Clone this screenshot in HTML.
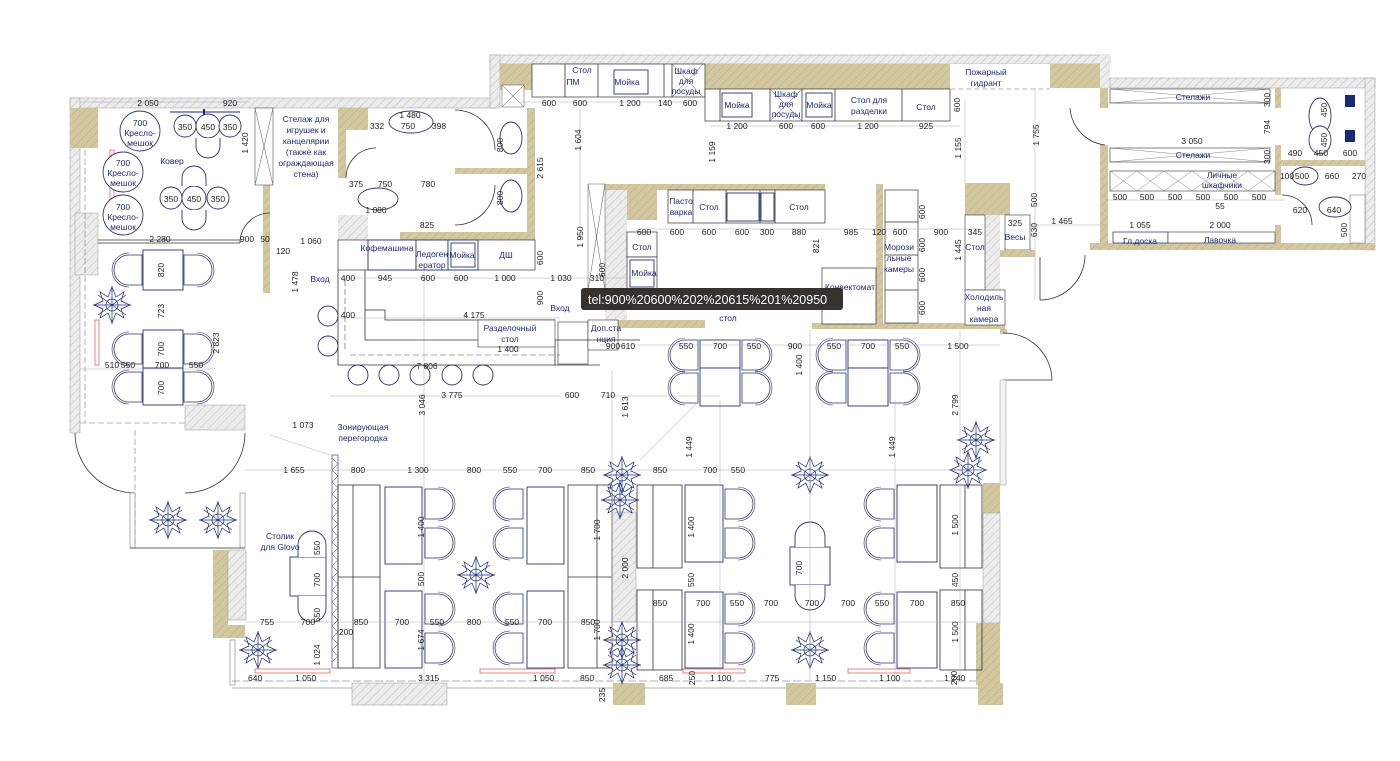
<!DOCTYPE html>
<html><head><meta charset="utf-8"><style>
html,body{margin:0;padding:0;background:#fff;}
svg{display:block;}
text{font-family:"Liberation Sans",sans-serif;}
.d{font-size:8.5px;fill:#222;}
.b{font-size:8.5px;fill:#1b2a78;}
.ln{stroke:#333;stroke-width:0.8;fill:none;}
.fn{stroke:#2b3570;stroke-width:0.9;fill:#fff;}
.dim{stroke:#aaa;stroke-width:0.5;fill:none;}
</style></head><body>
<svg width="1400" height="761" viewBox="0 0 1400 761" xmlns="http://www.w3.org/2000/svg">
<defs>
<pattern id="hg" width="6" height="6" patternUnits="userSpaceOnUse" patternTransform="rotate(45)"><rect width="6" height="6" fill="#ececec"/><line x1="0" y1="0" x2="0" y2="6" stroke="#bdbdbd" stroke-width="1"/></pattern>
<pattern id="ht" width="6" height="6" patternUnits="userSpaceOnUse" patternTransform="rotate(45)"><rect width="6" height="6" fill="#d2c79f"/><line x1="0" y1="0" x2="0" y2="6" stroke="#b9ad83" stroke-width="1"/></pattern>
<g id="cR"><path d="M0 0h13a15 15 0 0 1 0 30H0z" fill="#fff" stroke="#2b3570" stroke-width="0.8"/><path d="M13 -2a17 17 0 0 1 0 34" fill="none" stroke="#2b3570" stroke-width="0.6"/></g>
<g id="cL"><path d="M30 0h-13a15 15 0 0 0 0 30H30z" fill="#fff" stroke="#2b3570" stroke-width="0.8"/><path d="M17 -2a17 17 0 0 0 0 34" fill="none" stroke="#2b3570" stroke-width="0.6"/></g>
<g id="pl" stroke="#1b2a78" stroke-width="0.7" fill="none"><circle r="6"/><path d="M0-18L4-8L12-13L9-4L18 0L9 4L12 13L4 8L0 18L-4 8L-12 13L-9 4L-18 0L-9-4L-12-13L-4-8Z"/><path d="M-14-10L14 10M-14 10L14-10M0-19V19M-19 0H19"/></g>
</defs>

<!-- ===== WALLS ===== -->
<rect x="70" y="98" width="425" height="10" fill="url(#hg)" stroke="#999" stroke-width="0.5"/>
<rect x="490" y="55" width="620" height="9" fill="url(#hg)" stroke="#999" stroke-width="0.5"/>
<rect x="490" y="55" width="10" height="53" fill="url(#hg)" stroke="#999" stroke-width="0.5"/>
<rect x="500" y="64" width="32" height="26" fill="url(#ht)"/>
<rect x="705" y="64" width="245" height="25" fill="url(#ht)"/>
<rect x="1050" y="64" width="55" height="24" fill="url(#ht)"/>
<rect x="1100" y="55" width="10" height="33" fill="url(#hg)"/>
<rect x="1110" y="78" width="265" height="10" fill="url(#hg)" stroke="#999" stroke-width="0.5"/>
<rect x="1365" y="78" width="10" height="172" fill="url(#hg)" stroke="#999" stroke-width="0.5"/>
<rect x="1090" y="243" width="285" height="7" fill="url(#ht)"/>
<rect x="1100" y="88" width="8" height="20" fill="url(#ht)"/>
<rect x="1100" y="145" width="8" height="98" fill="url(#ht)"/>
<rect x="1275" y="88" width="6" height="20" fill="url(#ht)"/>
<rect x="1275" y="145" width="6" height="50" fill="url(#ht)"/>
<rect x="1280" y="160" width="85" height="6" fill="url(#ht)"/>
<rect x="1275" y="225" width="6" height="18" fill="url(#ht)"/>
<rect x="1350" y="195" width="15" height="48" fill="#fff" stroke="#666" stroke-width="0.5"/>

<rect x="70" y="98" width="10" height="335" fill="url(#hg)" stroke="#999" stroke-width="0.5"/>
<rect x="70" y="108" width="28" height="40" fill="url(#ht)"/>
<rect x="75" y="213" width="23" height="62" fill="url(#hg)" stroke="#999" stroke-width="0.5"/>
<line x1="85" y1="150" x2="85" y2="423" stroke="#777" stroke-width="0.6" stroke-dasharray="6 3"/>
<line x1="80" y1="423" x2="185" y2="423" stroke="#777" stroke-width="0.6" stroke-dasharray="6 3"/>
<rect x="110" y="150" width="4" height="55" fill="none" stroke="#e05050" stroke-width="0.7"/>
<rect x="95" y="320" width="4" height="45" fill="none" stroke="#e05050" stroke-width="0.7"/>
<line x1="98" y1="240" x2="240" y2="240" class="ln"/><line x1="98" y1="243" x2="240" y2="243" class="ln"/>
<rect x="185" y="405" width="60" height="25" fill="url(#hg)" stroke="#999" stroke-width="0.5"/>
<rect x="263" y="108" width="7" height="185" fill="url(#ht)"/>
<rect x="255" y="108" width="18" height="77" fill="#fff" stroke="#555" stroke-width="0.6"/>
<path d="M255 108L273 185M273 108L255 185" stroke="#555" stroke-width="0.5"/>
<path d="M240 243A30 30 0 0 1 270 213" class="ln" stroke-width="0.6"/>

<!-- toilets block -->
<rect x="338" y="108" width="8" height="70" fill="url(#ht)"/>
<rect x="346" y="108" width="22" height="22" fill="url(#ht)"/>
<rect x="338" y="215" width="30" height="25" fill="url(#hg)"/>
<rect x="400" y="232" width="135" height="8" fill="url(#ht)"/>
<rect x="527" y="108" width="8" height="132" fill="url(#ht)"/>
<rect x="455" y="168" width="72" height="6" fill="url(#ht)"/>
<rect x="338" y="240" width="197" height="30" fill="#fff" stroke="#333" stroke-width="0.7"/>
<rect x="368" y="240" width="48" height="30" class="fn"/><rect x="416" y="240" width="32" height="30" class="fn"/><rect x="448" y="240" width="30" height="30" class="fn"/>
<rect x="451" y="243" width="24" height="24" class="fn"/>
<path d="M346 178A30 30 0 0 1 376 148" class="ln" stroke-width="0.6"/>
<path d="M455 110A40 40 0 0 1 495 150M455 225A40 40 0 0 0 495 185" class="ln" stroke-width="0.6"/>
<ellipse cx="411" cy="122" rx="22" ry="11" class="fn"/><ellipse cx="378" cy="199" rx="20" ry="11" class="fn"/>
<ellipse cx="511" cy="138" rx="11" ry="16" class="fn"/><ellipse cx="511" cy="196" rx="11" ry="16" class="fn"/>
<rect x="502" y="85" width="22" height="22" fill="#fff" stroke="#555" stroke-width="0.5"/><path d="M502 85L524 107M524 85L502 107" stroke="#555" stroke-width="0.5"/>

<!-- kitchen top counters -->
<rect x="532" y="64" width="173" height="33" fill="#fff" stroke="#333" stroke-width="0.7"/>
<line x1="565" y1="64" x2="565" y2="97" class="ln"/><line x1="598" y1="64" x2="598" y2="97" class="ln"/><line x1="664" y1="64" x2="664" y2="97" class="ln"/><line x1="672" y1="64" x2="672" y2="97" class="ln"/>
<rect x="614" y="70" width="34" height="24" class="fn"/>
<path d="M672 64L703 97M703 64L672 97" stroke="#555" stroke-width="0.5"/>
<rect x="705" y="89" width="245" height="32" fill="#fff" stroke="#333" stroke-width="0.7"/>
<line x1="720" y1="89" x2="720" y2="121" class="ln"/><line x1="770" y1="89" x2="770" y2="121" class="ln"/><line x1="802" y1="89" x2="802" y2="121" class="ln"/><line x1="835" y1="89" x2="835" y2="121" class="ln"/><line x1="902" y1="89" x2="902" y2="121" class="ln"/>
<rect x="722" y="93" width="30" height="24" class="fn"/><rect x="806" y="93" width="26" height="24" class="fn"/>
<path d="M770 89L802 121M802 89L770 121" stroke="#555" stroke-width="0.5"/>
<rect x="950" y="64" width="100" height="25" fill="#fff"/>
<line x1="950" y1="89" x2="1050" y2="89" stroke="#777" stroke-width="0.5" stroke-dasharray="5 3"/>

<!-- kitchen island -->
<rect x="600" y="184" width="225" height="6" fill="url(#ht)"/>
<rect x="605" y="190" width="22" height="135" fill="url(#hg)"/>
<rect x="588" y="184" width="17" height="106" fill="#fff" stroke="#555" stroke-width="0.5"/>
<path d="M588 184L605 290M605 184L588 290" stroke="#555" stroke-width="0.5"/>
<rect x="627" y="190" width="30" height="30" fill="url(#ht)"/>
<rect x="668" y="190" width="157" height="33" fill="#fff" stroke="#333" stroke-width="0.7"/>
<line x1="693" y1="190" x2="693" y2="223" class="ln"/><line x1="726" y1="190" x2="726" y2="223" class="ln"/><line x1="760" y1="190" x2="760" y2="223" class="ln"/><line x1="775" y1="190" x2="775" y2="223" class="ln"/>
<rect x="727" y="193" width="32" height="28" class="fn"/><rect x="761" y="193" width="13" height="28" class="fn"/>
<rect x="627" y="232" width="30" height="25" fill="#fff" stroke="#333" stroke-width="0.7"/>
<rect x="627" y="257" width="30" height="33" fill="#fff" stroke="#333" stroke-width="0.7"/><rect x="630" y="260" width="24" height="27" class="fn"/>
<rect x="600" y="320" width="105" height="8" fill="url(#ht)"/>
<rect x="812" y="323" width="193" height="6" fill="url(#ht)"/>
<rect x="876" y="184" width="7" height="140" fill="url(#ht)"/>
<rect x="885" y="190" width="33" height="133" fill="#fff" stroke="#333" stroke-width="0.7"/>
<line x1="885" y1="222" x2="918" y2="222" class="ln"/><line x1="885" y1="255" x2="918" y2="255" class="ln"/><line x1="885" y1="290" x2="918" y2="290" class="ln"/>
<rect x="822" y="268" width="54" height="56" fill="#fff" stroke="#333" stroke-width="0.7"/>
<rect x="965" y="183" width="45" height="32" fill="url(#ht)"/>
<rect x="985" y="215" width="15" height="75" fill="url(#hg)"/>
<rect x="965" y="215" width="20" height="75" fill="#fff" stroke="#333" stroke-width="0.6"/>
<rect x="965" y="290" width="40" height="35" fill="#fff" stroke="#333" stroke-width="0.6"/>
<rect x="1005" y="215" width="25" height="35" fill="#fff" stroke="#333" stroke-width="0.6"/>
<rect x="1000" y="250" width="35" height="7" fill="url(#ht)"/>
<rect x="1000" y="329" width="7" height="5" fill="url(#ht)"/>
<path d="M1003 333A48 48 0 0 1 1052 380H1003" class="ln" stroke-width="0.6"/>
<path d="M1040 257V300A45 45 0 0 0 1085 255" class="ln" stroke-width="0.6"/>
<path d="M1070 108A40 40 0 0 0 1105 145" class="ln" stroke-width="0.6"/>

<!-- right storage -->
<rect x="1110" y="89" width="160" height="14" fill="#fff" stroke="#333" stroke-width="0.6"/><path d="M1110 89L1270 103M1270 89L1110 103" stroke="#666" stroke-width="0.4"/>
<rect x="1110" y="148" width="160" height="14" fill="#fff" stroke="#333" stroke-width="0.6"/><path d="M1110 148L1270 162M1270 148L1110 162" stroke="#666" stroke-width="0.4"/>
<rect x="1110" y="171" width="165" height="20" fill="#fff" stroke="#333" stroke-width="0.6"/>
<path d="M1110 171L1137 191M1137 171L1110 191M1137 171L1164 191M1164 171L1137 191M1164 171L1192 191M1192 171L1164 191M1192 171L1220 191M1220 171L1192 191M1220 171L1248 191M1248 171L1220 191M1248 171L1275 191M1275 171L1248 191" stroke="#666" stroke-width="0.4"/>
<rect x="1113" y="232" width="55" height="11" fill="#fff" stroke="#1b2a78" stroke-width="0.7"/>
<rect x="1168" y="232" width="107" height="11" fill="#fff" stroke="#333" stroke-width="0.6"/>
<path d="M1282 195A30 30 0 0 1 1312 225" class="ln" stroke-width="0.6"/>
<ellipse cx="1320" cy="116" rx="11" ry="18" class="fn"/><ellipse cx="1320" cy="140" rx="11" ry="14" class="fn"/>
<rect x="1345" y="95" width="10" height="12" fill="#1b2a78"/><rect x="1345" y="130" width="10" height="12" fill="#1b2a78"/>
<ellipse cx="1305" cy="176" rx="13" ry="9" class="fn"/><ellipse cx="1335" cy="207" rx="16" ry="10" class="fn"/>

<!-- bar counter -->
<path d="M338 270V365H555V340M338 365" class="ln"/>
<path d="M365 270V340H555M365 310H385V320H555" class="ln" stroke-width="0.6"/>
<rect x="478" y="320" width="77" height="27" fill="#fff" stroke="#333" stroke-width="0.6"/>
<rect x="558" y="322" width="30" height="42" fill="#fff" stroke="#333" stroke-width="0.6"/>
<line x1="350" y1="355" x2="560" y2="355" stroke="#555" stroke-width="0.6" stroke-dasharray="6 3"/>
<line x1="345" y1="280" x2="345" y2="350" stroke="#555" stroke-width="0.6" stroke-dasharray="6 3"/>
<rect x="588" y="320" width="30" height="30" fill="#fff" stroke="#333" stroke-width="0.6"/>
<line x1="555" y1="340" x2="640" y2="340" class="ln"/><line x1="555" y1="365" x2="600" y2="365" class="ln"/>
<g class="fn"><circle cx="358" cy="375" r="10"/><circle cx="389" cy="375" r="10"/><circle cx="420" cy="375" r="10"/><circle cx="452" cy="375" r="10"/><circle cx="483" cy="375" r="10"/><circle cx="328" cy="316" r="10"/><circle cx="328" cy="346" r="10"/></g>

<!-- left room furniture -->
<g class="fn"><circle cx="140" cy="131" r="20"/><circle cx="123" cy="172" r="20"/><circle cx="123" cy="215" r="20"/>
<circle cx="208" cy="126" r="12"/><circle cx="185" cy="126" r="11"/><circle cx="230" cy="126" r="11"/>
<circle cx="194" cy="198" r="12"/><circle cx="171" cy="198" r="11"/><circle cx="218" cy="198" r="11"/>
<path d="M196 138v8a12 12 0 0 0 24 0v-8M182 186v-8a12 12 0 0 1 24 0v8M182 210v8a12 12 0 0 0 24 0v-8"/></g>
<rect x="203" y="109" width="2" height="6" fill="#1b2a78"/><line x1="170" y1="112" x2="240" y2="112" stroke="#1b2a78" stroke-width="1"/>

<!-- left upper dining -->
<rect x="143" y="250" width="40" height="40" class="fn"/>
<rect x="143" y="330" width="40" height="38" class="fn"/><rect x="143" y="368" width="40" height="37" class="fn"/>
<use href="#cL" x="112" y="255"/><use href="#cR" x="184" y="255"/>
<use href="#cL" x="112" y="334"/><use href="#cR" x="184" y="334"/>
<use href="#cL" x="112" y="372"/><use href="#cR" x="184" y="372"/>
<use href="#pl" x="112" y="305"/>

<!-- upper center dining -->
<rect x="700" y="340" width="40" height="28" class="fn"/><rect x="700" y="368" width="40" height="38" class="fn"/>
<use href="#cL" x="668" y="340"/><use href="#cR" x="742" y="340"/><use href="#cL" x="668" y="373"/><use href="#cR" x="742" y="373"/>
<rect x="848" y="340" width="40" height="28" class="fn"/><rect x="848" y="368" width="40" height="38" class="fn"/>
<use href="#cL" x="816" y="340"/><use href="#cR" x="890" y="340"/><use href="#cL" x="816" y="373"/><use href="#cR" x="890" y="373"/>
<rect x="1000" y="380" width="6" height="105" fill="#f2f2f2" stroke="#999" stroke-width="0.5"/>

<!-- lower walls -->
<path d="M75 433A60 60 0 0 0 135 493M245 433A60 60 0 0 1 185 493" class="ln" stroke-width="0.6"/>
<line x1="135" y1="430" x2="135" y2="548" stroke="#777" stroke-width="0.6" stroke-dasharray="6 3"/>
<rect x="130" y="493" width="5" height="55" fill="#fff" stroke="#666" stroke-width="0.5"/><rect x="240" y="493" width="5" height="55" fill="#fff" stroke="#666" stroke-width="0.5"/>
<line x1="130" y1="548" x2="245" y2="548" class="ln"/>
<path d="M213 550H228V625H245V638H213Z" fill="url(#ht)"/>
<rect x="228" y="550" width="18" height="70" fill="url(#hg)" stroke="#999" stroke-width="0.5"/>
<rect x="230" y="640" width="5" height="45" fill="#fff" stroke="#666" stroke-width="0.5"/>
<line x1="232" y1="681" x2="1000" y2="681" stroke="#666" stroke-width="0.6" stroke-dasharray="8 3"/>
<line x1="232" y1="688" x2="1000" y2="688" stroke="#666" stroke-width="0.6"/>
<rect x="352" y="683" width="95" height="22" fill="url(#hg)" stroke="#999" stroke-width="0.5"/>
<rect x="613" y="683" width="32" height="22" fill="url(#ht)"/>
<rect x="786" y="683" width="30" height="22" fill="url(#ht)"/>
<rect x="978" y="683" width="25" height="22" fill="url(#ht)"/>
<rect x="983" y="483" width="17" height="30" fill="url(#ht)"/>
<rect x="983" y="513" width="17" height="110" fill="url(#hg)" stroke="#999" stroke-width="0.5"/>
<rect x="976" y="623" width="24" height="62" fill="url(#ht)"/>
<rect x="612" y="512" width="24" height="110" fill="url(#hg)" stroke="#999" stroke-width="0.5"/>
<g fill="none" stroke="#e05050" stroke-width="0.7"><rect x="255" y="669" width="75" height="4"/><rect x="480" y="669" width="75" height="4"/><rect x="683" y="669" width="62" height="4"/><rect x="848" y="669" width="62" height="4"/></g>

<!-- partition -->
<rect x="332" y="455" width="6" height="213" fill="#fff" stroke="#2b3570" stroke-width="0.6"/>
<path d="M332 458l6 6l-6 6l6 6l-6 6l6 6l-6 6l6 6l-6 6l6 6l-6 6l6 6l-6 6l6 6l-6 6l6 6l-6 6l6 6l-6 6l6 6l-6 6l6 6l-6 6l6 6l-6 6l6 6l-6 6l6 6l-6 6l6 6l-6 6l6 6l-6 6l6 6l-6 6" fill="none" stroke="#2b3570" stroke-width="0.5"/>

<!-- lower dining -->
<g class="ln" stroke-width="0.7">
<rect x="338" y="485" width="42" height="183"/><line x1="338" y1="577" x2="380" y2="577"/><line x1="353" y1="485" x2="353" y2="668"/>
<rect x="568" y="485" width="44" height="183"/><line x1="568" y1="577" x2="612" y2="577"/><line x1="597" y1="485" x2="597" y2="668"/>
<rect x="637" y="485" width="45" height="83"/><line x1="653" y1="485" x2="653" y2="568"/>
<rect x="637" y="590" width="45" height="80"/><line x1="653" y1="590" x2="653" y2="670"/>
<rect x="940" y="485" width="42" height="83"/><line x1="965" y1="485" x2="965" y2="568"/>
<rect x="940" y="590" width="42" height="80"/><line x1="965" y1="590" x2="965" y2="670"/>
</g>
<rect x="385" y="487" width="37" height="77" class="fn"/><rect x="385" y="591" width="37" height="77" class="fn"/>
<rect x="527" y="487" width="37" height="77" class="fn"/><rect x="527" y="591" width="37" height="77" class="fn"/>
<rect x="685" y="485" width="38" height="77" class="fn"/><rect x="685" y="592" width="38" height="76" class="fn"/>
<rect x="897" y="485" width="40" height="77" class="fn"/><rect x="897" y="592" width="40" height="76" class="fn"/>
<rect x="790" y="547" width="40" height="38" class="fn"/>
<rect x="290" y="557" width="36" height="39" class="fn"/>
<g>
<use href="#cR" x="425" y="489"/><use href="#cR" x="425" y="528"/><use href="#cR" x="425" y="594"/><use href="#cR" x="425" y="633"/>
<use href="#cL" x="493" y="489"/><use href="#cL" x="493" y="528"/><use href="#cL" x="493" y="594"/><use href="#cL" x="493" y="633"/>
<use href="#cR" x="725" y="489"/><use href="#cR" x="725" y="528"/><use href="#cR" x="725" y="594"/><use href="#cR" x="725" y="633"/>
<use href="#cL" x="864" y="489"/><use href="#cL" x="864" y="528"/><use href="#cL" x="864" y="594"/><use href="#cL" x="864" y="633"/>
</g>
<path d="M795 547v-10a15 15 0 0 1 30 0v10M795 585v10a15 15 0 0 0 30 0v-10" class="fn"/>
<path d="M298 557v-12a14 14 0 0 1 28 0v12M298 596v12a14 14 0 0 0 28 0v-12" class="fn"/>
<use href="#pl" x="810" y="475"/><use href="#pl" x="810" y="650"/><use href="#pl" x="476" y="575"/>
<use href="#pl" x="168" y="520"/><use href="#pl" x="218" y="520"/><use href="#pl" x="258" y="650"/><use href="#pl" x="976" y="440"/><use href="#pl" x="968" y="470"/>
<use href="#pl" x="622" y="475"/><use href="#pl" x="620" y="500"/><use href="#pl" x="622" y="640"/><use href="#pl" x="622" y="665"/>

<!-- dimension lines -->
<g class="dim">
<line x1="245" y1="470" x2="985" y2="470"/><line x1="245" y1="622" x2="985" y2="622"/>
<line x1="600" y1="396" x2="720" y2="396"/><line x1="330" y1="396" x2="560" y2="396"/>
<line x1="600" y1="345" x2="1000" y2="345"/><line x1="80" y1="369" x2="215" y2="369"/>
<line x1="80" y1="102" x2="250" y2="102"/><line x1="520" y1="102" x2="700" y2="102"/>
<line x1="710" y1="126" x2="960" y2="126"/><line x1="340" y1="278" x2="640" y2="278"/>
<line x1="340" y1="318" x2="560" y2="318"/><line x1="640" y1="229" x2="980" y2="229"/>
<line x1="1105" y1="200" x2="1285" y2="200"/><line x1="1030" y1="225" x2="1105" y2="225"/>
<line x1="424" y1="270" x2="424" y2="680"/><line x1="612" y1="370" x2="612" y2="680"/>
<line x1="720" y1="400" x2="720" y2="680"/><line x1="895" y1="400" x2="895" y2="680"/>
<line x1="960" y1="330" x2="960" y2="680"/><line x1="810" y1="330" x2="810" y2="680"/>
<line x1="1035" y1="88" x2="1035" y2="300"/><line x1="580" y1="100" x2="580" y2="240"/>
<line x1="965" y1="100" x2="965" y2="183"/><line x1="640" y1="460" x2="700" y2="400"/>
<line x1="270" y1="435" x2="330" y2="455"/>
</g>

<!-- LABELS blue -->
<g class="b" text-anchor="middle">
<text x="140" y="126">700</text><text x="140" y="136">Кресло-</text><text x="140" y="146">мешок</text>
<text x="123" y="166">700</text><text x="123" y="176">Кресло-</text><text x="123" y="186">мешок</text>
<text x="123" y="210">700</text><text x="123" y="220">Кресло-</text><text x="123" y="230">мешок</text>
<text x="172" y="164">Ковер</text>
<text x="306" y="122">Стелаж для</text><text x="306" y="133">игрушек и</text><text x="306" y="144">канцелярии</text><text x="306" y="155">(также как</text><text x="306" y="166">ограждающая</text><text x="306" y="177">стена)</text>
<text x="387" y="251">Кофемашина</text><text x="432" y="257">Ледоген</text><text x="432" y="268">ератор</text><text x="462" y="258">Мойка</text><text x="506" y="258">ДШ</text>
<text x="320" y="282">Вход</text><text x="560" y="311">Вход</text>
<text x="510" y="331">Разделочный</text><text x="510" y="342">стол</text>
<text x="606" y="331">Доп.ста</text><text x="606" y="342">нция</text>
<text x="627" y="85">Мойка</text><text x="737" y="108">Мойка</text><text x="819" y="108">Мойка</text>
<text x="686" y="74">Шкаф</text><text x="686" y="84">для</text><text x="686" y="94">посуды</text>
<text x="786" y="97">Шкаф</text><text x="786" y="107">для</text><text x="786" y="117">посуды</text>
<text x="869" y="103">Стол для</text><text x="869" y="114">разделки</text><text x="926" y="110">Стол</text>
<text x="582" y="73">Стол</text><text x="573" y="85">ПМ</text>
<text x="681" y="204">Пасто</text><text x="681" y="215">варка</text><text x="709" y="210">Стол</text><text x="799" y="210">Стол</text>
<text x="642" y="250">Стол</text><text x="644" y="276">Мойка</text>
<text x="899" y="250">Морози</text><text x="899" y="261">льные</text><text x="899" y="272">камеры</text>
<text x="850" y="290">Конвектомат</text><text x="728" y="321">стол</text>
<text x="975" y="250">Стол</text><text x="1015" y="240">Весы</text>
<text x="984" y="300">Холодиль</text><text x="984" y="311">ная</text><text x="984" y="322">камера</text>
<text x="986" y="75">Пожарный</text><text x="986" y="86">гидрант</text>
<text x="1193" y="100">Стелажи</text><text x="1193" y="158">Стелажи</text>
<text x="1222" y="178">Личные</text><text x="1222" y="188">шкафчики</text>
<text x="1140" y="244">Гл.доска</text><text x="1220" y="243">Лавочка</text>
<text x="363" y="430">Зонирующая</text><text x="363" y="441">перегородка</text>
<text x="280" y="539">Столик</text><text x="280" y="550">для Glovo</text>
</g>

<!-- dims black -->
<g class="d" text-anchor="middle">
<text x="148" y="106">2 050</text><text x="230" y="106">920</text>
<text x="185" y="130">350</text><text x="208" y="130">450</text><text x="230" y="130">350</text>
<text x="171" y="202">350</text><text x="194" y="202">450</text><text x="218" y="202">350</text>
<text x="160" y="242">2 280</text><text x="247" y="242">900</text><text x="265" y="242">50</text><text x="283" y="254">120</text><text x="311" y="244">1 060</text>
<text x="377" y="129">332</text><text x="408" y="129">750</text><text x="410" y="118">1 480</text><text x="439" y="129">398</text>
<text x="356" y="187">375</text><text x="385" y="187">750</text><text x="428" y="187">780</text><text x="376" y="213">1 080</text><text x="427" y="228">825</text>
<text x="348" y="281">400</text><text x="385" y="281">945</text><text x="428" y="281">600</text><text x="461" y="281">600</text><text x="505" y="281">1 000</text><text x="561" y="281">1 030</text><text x="597" y="281">310</text>
<text x="348" y="318">400</text><text x="474" y="318">4 175</text><text x="508" y="352">1 400</text>
<text x="427" y="369">7 806</text><text x="452" y="398">3 775</text><text x="572" y="398">600</text><text x="608" y="398">710</text>
<text x="549" y="106">600</text><text x="580" y="106">600</text><text x="630" y="106">1 200</text><text x="665" y="106">140</text><text x="690" y="106">600</text>
<text x="737" y="129">1 200</text><text x="786" y="129">600</text><text x="818" y="129">600</text><text x="868" y="129">1 200</text><text x="926" y="129">925</text>
<text x="644" y="235">600</text><text x="677" y="235">600</text><text x="709" y="235">600</text><text x="742" y="235">600</text><text x="767" y="235">300</text><text x="799" y="235">880</text><text x="851" y="235">985</text><text x="879" y="235">120</text><text x="900" y="235">600</text><text x="941" y="235">900</text><text x="975" y="235">345</text><text x="1015" y="226">325</text><text x="1062" y="224">1 465</text>
<text x="628" y="349">610</text><text x="686" y="349">550</text><text x="720" y="349">700</text><text x="754" y="349">550</text><text x="795" y="349">900</text><text x="834" y="349">550</text><text x="868" y="349">700</text><text x="902" y="349">550</text><text x="958" y="349">1 500</text><text x="613" y="349">900</text>
<text x="112" y="368">510</text><text x="128" y="368">550</text><text x="162" y="368">700</text><text x="196" y="368">550</text>
<text x="1192" y="144">3 050</text><text x="1120" y="200">500</text><text x="1147" y="200">500</text><text x="1175" y="200">500</text><text x="1203" y="200">500</text><text x="1231" y="200">500</text><text x="1259" y="200">500</text><text x="1220" y="209">55</text><text x="1140" y="228">1 055</text><text x="1220" y="228">2 000</text>
<text x="1295" y="156">490</text><text x="1321" y="156">450</text><text x="1350" y="156">600</text><text x="1287" y="179">100</text><text x="1302" y="179">500</text><text x="1332" y="179">660</text><text x="1359" y="179">270</text><text x="1300" y="213">620</text><text x="1334" y="213">640</text>
<text x="294" y="473">1 655</text><text x="358" y="473">800</text><text x="418" y="473">1 300</text><text x="474" y="473">800</text><text x="510" y="473">550</text><text x="545" y="473">700</text><text x="588" y="473">850</text><text x="660" y="473">850</text><text x="710" y="473">700</text><text x="738" y="473">550</text>
<text x="267" y="625">755</text><text x="308" y="625">700</text><text x="361" y="625">850</text><text x="402" y="625">700</text><text x="437" y="625">550</text><text x="474" y="625">800</text><text x="512" y="625">550</text><text x="545" y="625">700</text><text x="588" y="625">850</text>
<text x="660" y="606">850</text><text x="703" y="606">700</text><text x="737" y="606">550</text><text x="771" y="606">700</text><text x="812" y="606">700</text><text x="848" y="606">700</text><text x="882" y="606">550</text><text x="917" y="606">700</text><text x="958" y="606">850</text>
<text x="346" y="635">200</text><text x="303" y="428">1 073</text>
</g>
<g class="d" font-size="6"><text x="248" y="681">640</text><text x="295" y="681">1 050</text><text x="418" y="681">3 315</text><text x="533" y="681">1 050</text><text x="580" y="681">850</text><text x="659" y="681">685</text><text x="710" y="681">1 100</text><text x="765" y="681">775</text><text x="815" y="681">1 150</text><text x="879" y="681">1 100</text><text x="944" y="681">1 240</text></g>
<!-- vertical dims -->
<g class="d" text-anchor="middle">
<text transform="translate(248,143) rotate(-90)">1 420</text>
<text transform="translate(543,168) rotate(-90)">2 615</text>
<text transform="translate(581,140) rotate(-90)">1 604</text>
<text transform="translate(715,152) rotate(-90)">1 159</text>
<text transform="translate(961,148) rotate(-90)">1 155</text>
<text transform="translate(1039,135) rotate(-90)">1 755</text>
<text transform="translate(583,237) rotate(-90)">1 950</text>
<text transform="translate(961,250) rotate(-90)">1 445</text>
<text transform="translate(819,246) rotate(-90)">821</text>
<text transform="translate(298,282) rotate(-90)">1 478</text>
<text transform="translate(164,270) rotate(-90)">820</text>
<text transform="translate(164,311) rotate(-90)">723</text>
<text transform="translate(164,349) rotate(-90)">700</text>
<text transform="translate(164,388) rotate(-90)">700</text>
<text transform="translate(219,343) rotate(-90)">2 823</text>
<text transform="translate(425,405) rotate(-90)">3 046</text>
<text transform="translate(628,407) rotate(-90)">1 613</text>
<text transform="translate(692,447) rotate(-90)">1 449</text>
<text transform="translate(895,447) rotate(-90)">1 449</text>
<text transform="translate(802,365) rotate(-90)">1 400</text>
<text transform="translate(958,405) rotate(-90)">2 799</text>
<text transform="translate(424,527) rotate(-90)">1 400</text>
<text transform="translate(424,579) rotate(-90)">500</text>
<text transform="translate(424,640) rotate(-90)">1 674</text>
<text transform="translate(600,530) rotate(-90)">1 700</text>
<text transform="translate(628,568) rotate(-90)">2 000</text>
<text transform="translate(600,630) rotate(-90)">1 700</text>
<text transform="translate(694,527) rotate(-90)">1 400</text>
<text transform="translate(694,580) rotate(-90)">550</text>
<text transform="translate(694,634) rotate(-90)">1 400</text>
<text transform="translate(958,525) rotate(-90)">1 500</text>
<text transform="translate(958,580) rotate(-90)">450</text>
<text transform="translate(958,632) rotate(-90)">1 500</text>
<text transform="translate(802,568) rotate(-90)">700</text>
<text transform="translate(320,548) rotate(-90)">550</text>
<text transform="translate(320,580) rotate(-90)">700</text>
<text transform="translate(320,615) rotate(-90)">550</text>
<text transform="translate(320,655) rotate(-90)">1 024</text>
<text transform="translate(925,212) rotate(-90)">600</text>
<text transform="translate(925,245) rotate(-90)">600</text>
<text transform="translate(925,275) rotate(-90)">600</text>
<text transform="translate(925,308) rotate(-90)">600</text>
<text transform="translate(960,105) rotate(-90)">600</text>
<text transform="translate(1270,100) rotate(-90)">300</text>
<text transform="translate(1270,127) rotate(-90)">794</text>
<text transform="translate(1270,157) rotate(-90)">300</text>
<text transform="translate(1037,200) rotate(-90)">500</text>
<text transform="translate(1037,230) rotate(-90)">630</text>
<text transform="translate(605,270) rotate(-90)">600</text>
<text transform="translate(543,258) rotate(-90)">600</text>
<text transform="translate(543,298) rotate(-90)">900</text>
<text transform="translate(503,145) rotate(-90)">800</text>
<text transform="translate(503,198) rotate(-90)">800</text>
<text transform="translate(1347,230) rotate(-90)">500</text>
<text transform="translate(1327,110) rotate(-90)">450</text>
<text transform="translate(1327,140) rotate(-90)">450</text>
<text transform="translate(605,695) rotate(-90)">235</text>
<text transform="translate(957,678) rotate(-90)">200</text>
<text transform="translate(695,678) rotate(-90)">250</text>
</g>

<!-- tooltip -->
<rect x="581" y="288" width="262" height="22" rx="3" fill="#2b2724" opacity="0.95"/>
<text x="588" y="304" font-size="12.5" fill="#fff" font-family="Liberation Sans,sans-serif">tel:900%20600%202%20615%201%20950</text>
</svg>
</body></html>
